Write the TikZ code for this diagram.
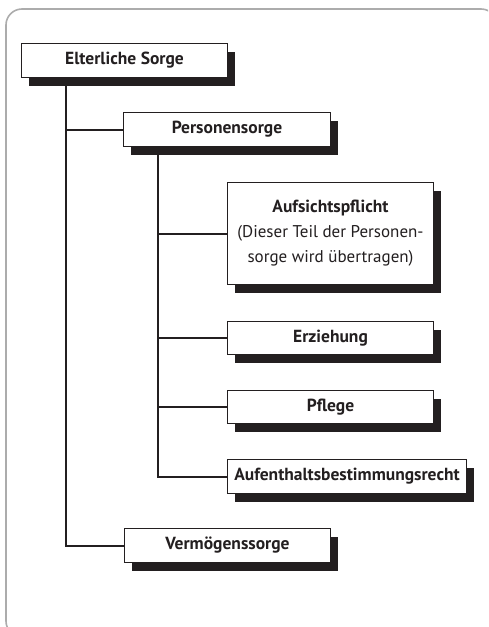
\documentclass[tikz,border=0pt]{standalone}
\usepackage{fontspec}
\setmainfont{PT Sans}
\usetikzlibrary{shadows}
\definecolor{ink}{HTML}{231F20}
\tikzset{
  bx/.style={draw=ink, line width=1pt, fill=white, anchor=north west, inner sep=0pt,
    minimum height=34pt, text=ink, font=\fontsize{17.5}{25}\selectfont\bfseries,
    drop shadow={shadow xshift=7pt, shadow yshift=-8pt, fill=ink, opacity=1}},
  conn/.style={draw=ink, line width=2pt},
  frame/.style={draw=gray!65, line width=1.6pt, rounded corners=16pt}
}
\begin{document}
\begin{tikzpicture}[x=1pt,y=-1pt]
\useasboundingbox (0,0) rectangle (488,627);
\begin{scope}
\clip (0,0) rectangle (488,627);
\draw[frame] (6,9) rectangle (497,637);
\end{scope}
% nodes
\node[bx, minimum width=206pt] (es) at (21,43) {Elterliche Sorge};
\node[bx, minimum width=207pt] (ps) at (123,112) {Personensorge};
\node[bx, minimum width=206pt, minimum height=102pt, align=center] (au) at (227,182)
  {Aufsichtspflicht\\\mdseries\fontsize{17}{25}\selectfont(Dieser Teil der Personen-\\\mdseries\fontsize{17}{25}\selectfont sorge wird übertragen)};
\node[bx, minimum width=206pt, minimum height=33pt] (er) at (227,321) {Erziehung};
\node[bx, minimum width=206pt, minimum height=33pt] (pf) at (227,390) {Pflege};
\node[bx, minimum width=239pt] (ab) at (227,459) {Aufenthaltsbestimmungsrecht};
\node[bx, minimum width=206pt] (vs) at (124,528) {Vermögenssorge};
% connectors
\coordinate (t1) at ([xshift=45pt]es.south west);
\coordinate (t2) at ([xshift=35pt]ps.south west);
\draw[conn] (t1) |- (vs.west);
\draw[conn] (ps.west) -- (ps.west -| t1);
\draw[conn] (t2) |- (ab.west);
\draw[conn] (au.west) -- (au.west -| t2);
\draw[conn] (er.west) -- (er.west -| t2);
\draw[conn] (pf.west) -- (pf.west -| t2);
% redraw boxes on top of connector starts
\node[bx, minimum width=206pt] at (21,43) {Elterliche Sorge};
\node[bx, minimum width=207pt] at (123,112) {Personensorge};
\end{tikzpicture}
\end{document}
